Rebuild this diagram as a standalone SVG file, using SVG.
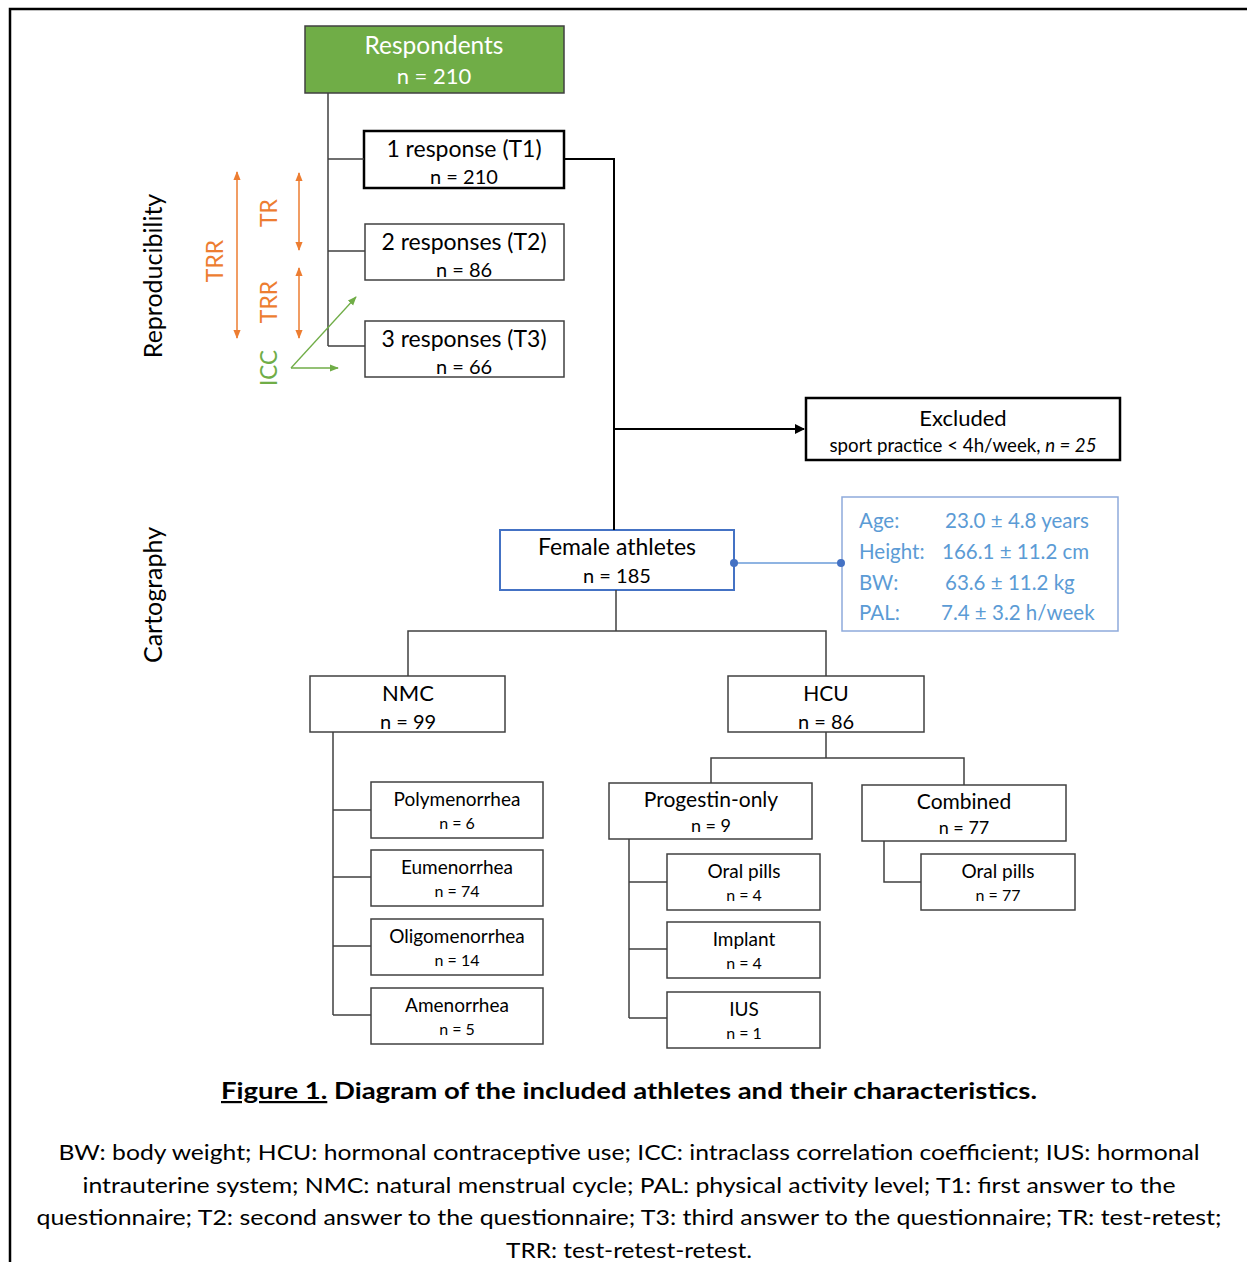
<svg xmlns="http://www.w3.org/2000/svg" width="1247" height="1262" viewBox="0 0 1247 1262">
<defs>
<marker id="ab" viewBox="0 0 10 10" refX="9" refY="5" markerWidth="5" markerHeight="5" orient="auto-start-reverse"><path d="M0,0 L10,5 L0,10 z" fill="#000"/></marker>
<marker id="ao" viewBox="0 0 10 10" refX="9" refY="5" markerWidth="6" markerHeight="6" orient="auto-start-reverse"><path d="M0,1 L10,5 L0,9 z" fill="#ED7D31"/></marker>
<marker id="ag" viewBox="0 0 10 10" refX="9" refY="5" markerWidth="7" markerHeight="7" orient="auto"><path d="M0,1 L10,5 L0,9 z" fill="#70AD47"/></marker>
</defs>
<style>
text{font-family:Lato,"Open Sans","Liberation Sans",sans-serif;fill:#000;}
.box{fill:#fff;stroke:#404040;stroke-width:1.5;}
.thick{fill:#fff;stroke:#000;stroke-width:2.5;}
.c{text-anchor:middle;}
.w{font-size:23px;}
.n{font-size:20px;}
.ws{font-size:19px;}
.ns{font-size:16px;}
.ln{fill:none;stroke:#404040;stroke-width:1.5;}
.st{fill:#5B9BD5;font-size:20.5px;}
.or{fill:#ED7D31;font-size:23px;}
</style>
<rect width="1247" height="1262" fill="#fff"/>
<path d="M10,1262 V9 H1247" fill="none" stroke="#000" stroke-width="2.5"/>

<g id="labels">
<text class="c" font-size="25" transform="translate(162,276) rotate(-90)">Reproducibility</text>
<text class="c" font-size="25" transform="translate(162,595) rotate(-90)">Cartography</text>
<text class="c or" transform="translate(223,261) rotate(-90)">TRR</text>
<text class="c or" transform="translate(277,213) rotate(-90)">TR</text>
<text class="c or" transform="translate(277,302) rotate(-90)">TRR</text>
<text class="c" font-size="22.5" style="fill:#70AD47" transform="translate(277,368) rotate(-90)">ICC</text>
</g>

<g id="respondents">
<rect x="305" y="26" width="259" height="67" fill="#70AD47" stroke="#404040" stroke-width="1.5"/>
<text class="c" x="434" y="54" font-size="24.5" style="fill:#fff">Respondents</text>
<text class="c" x="434" y="84" font-size="22" style="fill:#fff">n = 210</text>
</g>
<g id="t1">
<rect class="thick" x="364" y="131" width="200" height="57"/>
<text class="c w" x="464" y="157">1 response (T1)</text>
<text class="c n" x="464" y="184">n = 210</text>
</g>
<g id="t2">
<rect class="box" x="365" y="224" width="199" height="56"/>
<text class="c w" x="464" y="250">2 responses (T2)</text>
<text class="c n" x="464" y="277">n = 86</text>
</g>
<g id="t3">
<rect class="box" x="365" y="321" width="199" height="56"/>
<text class="c w" x="464" y="347">3 responses (T3)</text>
<text class="c n" x="464" y="374">n = 66</text>
</g>
<g id="excluded">
<rect class="thick" x="806" y="398" width="314" height="62"/>
<text class="c" x="963" y="426" font-size="22">Excluded</text>
<text class="c" x="963" y="452" font-size="18.7">sport practice &lt; 4h/week, <tspan font-style="italic">n = 25</tspan></text>
</g>
<g id="female">
<rect x="500" y="530" width="234" height="60" fill="#fff" stroke="#4472C4" stroke-width="2"/>
<text class="c w" x="617" y="555">Female athletes</text>
<text class="c n" x="617" y="583">n = 185</text>
</g>
<g id="stats">
<rect x="842" y="497" width="276" height="134" fill="#fff" stroke="#8EAADB" stroke-width="1.5"/>
<text class="st" x="859" y="528">Age:</text><text class="st" x="945" y="528">23.0 ± 4.8 years</text>
<text class="st" x="859" y="559">Height:</text><text class="st" x="942" y="559">166.1 ± 11.2 cm</text>
<text class="st" x="859" y="590">BW:</text><text class="st" x="945" y="590">63.6 ± 11.2 kg</text>
<text class="st" x="859" y="620">PAL:</text><text class="st" x="941" y="620">7.4 ± 3.2 h/week</text>
</g>
<g id="nmc">
<rect class="box" x="310" y="676" width="195" height="56"/>
<text class="c" font-size="22" x="408" y="701">NMC</text>
<text class="c n" x="408" y="729">n = 99</text>
</g>
<g id="hcu">
<rect class="box" x="728" y="676" width="196" height="56"/>
<text class="c" font-size="21" x="826" y="701">HCU</text>
<text class="c n" x="826" y="729">n = 86</text>
</g>
<g id="poly">
<rect class="box" x="371" y="782" width="172" height="56"/>
<text class="c ws" x="457" y="806">Polymenorrhea</text>
<text class="c ns" x="457" y="829">n = 6</text>
</g>
<g id="eu">
<rect class="box" x="371" y="850" width="172" height="56"/>
<text class="c ws" x="457" y="874">Eumenorrhea</text>
<text class="c ns" x="457" y="897">n = 74</text>
</g>
<g id="oligo">
<rect class="box" x="371" y="919" width="172" height="56"/>
<text class="c ws" x="457" y="943">Oligomenorrhea</text>
<text class="c ns" x="457" y="966">n = 14</text>
</g>
<g id="ameno">
<rect class="box" x="371" y="988" width="172" height="56"/>
<text class="c ws" x="457" y="1012">Amenorrhea</text>
<text class="c ns" x="457" y="1035">n = 5</text>
</g>
<g id="progestin">
<rect class="box" x="609" y="783" width="203" height="56"/>
<text class="c" font-size="21" x="711" y="807">Progestin-only</text>
<text class="c" font-size="18" x="711" y="832">n = 9</text>
</g>
<g id="combined">
<rect class="box" x="862" y="785" width="204" height="56"/>
<text class="c" font-size="21" x="964" y="809">Combined</text>
<text class="c" font-size="18" x="964" y="834">n = 77</text>
</g>
<g id="oral1">
<rect class="box" x="667" y="854" width="153" height="56"/>
<text class="c ws" x="744" y="878">Oral pills</text>
<text class="c ns" x="744" y="901">n = 4</text>
</g>
<g id="implant">
<rect class="box" x="667" y="922" width="153" height="56"/>
<text class="c ws" x="744" y="946">Implant</text>
<text class="c ns" x="744" y="969">n = 4</text>
</g>
<g id="ius">
<rect class="box" x="667" y="992" width="153" height="56"/>
<text class="c ws" x="744" y="1016">IUS</text>
<text class="c ns" x="744" y="1039">n = 1</text>
</g>
<g id="oral2">
<rect class="box" x="921" y="854" width="154" height="56"/>
<text class="c ws" x="998" y="878">Oral pills</text>
<text class="c ns" x="998" y="901">n = 77</text>
</g>

<g id="connectors">
<path class="ln" d="M328,93 V346 M328,159 H364 M328,251 H365 M328,346 H365"/>
<path d="M564,159 H614 V530" fill="none" stroke="#000" stroke-width="2"/>
<path d="M614,429 H804" fill="none" stroke="#000" stroke-width="2" marker-end="url(#ab)"/>
<path d="M734,563 H841" fill="none" stroke="#6A9BD8" stroke-width="1.5"/>
<circle cx="734" cy="563" r="4" fill="#4472C4"/>
<circle cx="841" cy="563" r="4" fill="#4472C4"/>
<path class="ln" d="M616,590 V631 M408,676 V631 H826 V676"/>
<path class="ln" d="M333,732 V1015 M333,810 H371 M333,877 H371 M333,946 H371 M333,1015 H371"/>
<path class="ln" d="M826,732 V758 M711,783 V758 H964 V785"/>
<path class="ln" d="M629,839 V1018 M629,882 H667 M629,949 H667 M629,1018 H667"/>
<path class="ln" d="M884,841 V882 H921"/>
<path d="M237,172 V338" stroke="#ED7D31" stroke-width="1.5" marker-start="url(#ao)" marker-end="url(#ao)"/>
<path d="M299,173 V250" stroke="#ED7D31" stroke-width="1.5" marker-start="url(#ao)" marker-end="url(#ao)"/>
<path d="M299,268 V338" stroke="#ED7D31" stroke-width="1.5" marker-start="url(#ao)" marker-end="url(#ao)"/>
<path d="M291,368 L356,297" stroke="#70AD47" stroke-width="1.3" marker-end="url(#ag)"/>
<path d="M291,368 H338" stroke="#70AD47" stroke-width="1.3" marker-end="url(#ag)"/>
</g>

<g id="caption">
<text x="221" y="1099" font-size="22" font-weight="bold" textLength="816" lengthAdjust="spacingAndGlyphs"><tspan text-decoration="underline">Figure 1.</tspan> Diagram of the included athletes and their characteristics.</text>
<text class="c" x="629" y="1160" font-size="21" textLength="1141" lengthAdjust="spacingAndGlyphs">BW: body weight; HCU: hormonal contraceptive use; ICC: intraclass correlation coefficient; IUS: hormonal</text>
<text class="c" x="629" y="1193" font-size="21" textLength="1093" lengthAdjust="spacingAndGlyphs">intrauterine system; NMC: natural menstrual cycle; PAL: physical activity level; T1: first answer to the</text>
<text class="c" x="629" y="1225" font-size="21" textLength="1185" lengthAdjust="spacingAndGlyphs">questionnaire; T2: second answer to the questionnaire; T3: third answer to the questionnaire; TR: test-retest;</text>
<text class="c" x="629" y="1258" font-size="21" textLength="246" lengthAdjust="spacingAndGlyphs">TRR: test-retest-retest.</text>
</g>
</svg>
